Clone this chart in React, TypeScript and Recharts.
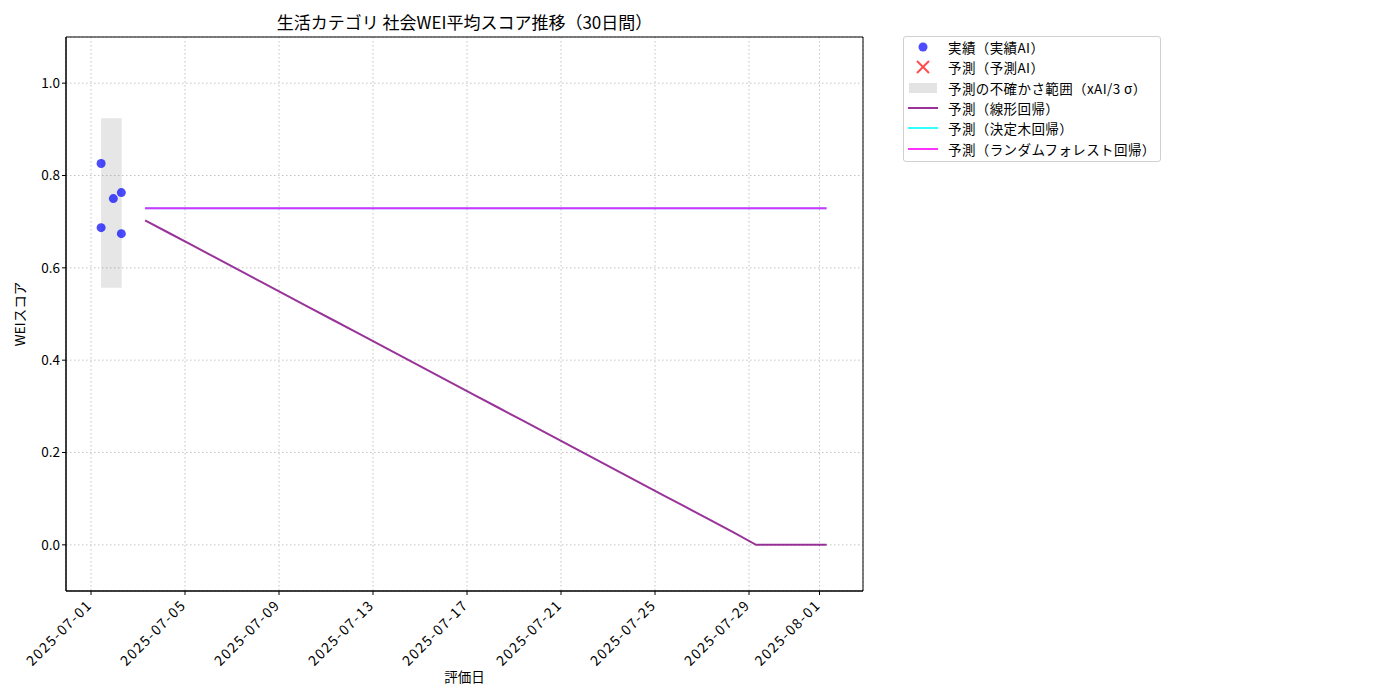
import React from 'react'
import {
  ComposedChart,
  Line,
  Scatter,
  XAxis,
  YAxis,
  CartesianGrid,
  ReferenceArea
} from 'recharts'

const FONT = '"Noto Sans CJK JP", "DejaVu Sans", sans-serif'
const BASE = Date.UTC(2025, 6, 1)

// 実績データ
const actualDates = [
  '2025-07-01T10:20Z',
  '2025-07-01T22:50Z',
  '2025-07-02T07:00Z',
  '2025-07-01T10:20Z',
  '2025-07-02T07:00Z'
]
const actualScores = [0.826, 0.75, 0.763, 0.687, 0.674]

// 不確かさ範囲 (xAI/3σ)
const bandDates = ['2025-07-01T10:20Z', '2025-07-02T07:20Z']
const bandRange = [0.557, 0.924]

// 予測日 (30日間)
const forecastDates = [
  '2025-07-03', '2025-07-04', '2025-07-05', '2025-07-06', '2025-07-07',
  '2025-07-08', '2025-07-09', '2025-07-10', '2025-07-11', '2025-07-12',
  '2025-07-13', '2025-07-14', '2025-07-15', '2025-07-16', '2025-07-17',
  '2025-07-18', '2025-07-19', '2025-07-20', '2025-07-21', '2025-07-22',
  '2025-07-23', '2025-07-24', '2025-07-25', '2025-07-26', '2025-07-27',
  '2025-07-28', '2025-07-29', '2025-07-30', '2025-07-31', '2025-08-01'
].map(d => d + 'T07:12Z')

const linearScores = [
  0.703, 0.676, 0.649, 0.622, 0.595, 0.568, 0.541, 0.514, 0.487, 0.46,
  0.433, 0.406, 0.379, 0.352, 0.325, 0.298, 0.271, 0.244, 0.217, 0.19,
  0.163, 0.136, 0.109, 0.082, 0.055, 0.028, 0.0, 0.0, 0.0, 0.0
]
const treeScores = [
  0.729, 0.729, 0.729, 0.729, 0.729, 0.729, 0.729, 0.729, 0.729, 0.729,
  0.729, 0.729, 0.729, 0.729, 0.729, 0.729, 0.729, 0.729, 0.729, 0.729,
  0.729, 0.729, 0.729, 0.729, 0.729, 0.729, 0.729, 0.729, 0.729, 0.729
]
const forestScores = [
  0.729, 0.729, 0.729, 0.729, 0.729, 0.729, 0.729, 0.729, 0.729, 0.729,
  0.729, 0.729, 0.729, 0.729, 0.729, 0.729, 0.729, 0.729, 0.729, 0.729,
  0.729, 0.729, 0.729, 0.729, 0.729, 0.729, 0.729, 0.729, 0.729, 0.729
]

const tickDates = [
  '2025-07-01', '2025-07-05', '2025-07-09', '2025-07-13', '2025-07-17',
  '2025-07-21', '2025-07-25', '2025-07-29', '2025-08-01'
]
const yTicks = [0, 0.2, 0.4, 0.6, 0.8, 1.0]

const toDay = (s: string) =>
  (Date.parse(s.length === 10 ? s + 'T00:00Z' : s) - BASE) / 86400000

const X_DOMAIN: [number, number] = [-1.064, 32.85]
const Y_DOMAIN: [number, number] = [-0.1, 1.1]

const actualData = actualDates.map((d, i) => ({ day: toDay(d), value: actualScores[i] }))
const linearData = forecastDates.map((d, i) => ({ day: toDay(d), value: linearScores[i] }))
const treeData = forecastDates.map((d, i) => ({ day: toDay(d), value: treeScores[i] }))
const forestData = forecastDates.map((d, i) => ({ day: toDay(d), value: forestScores[i] }))
const xTicks = tickDates.map(toDay)
const tickLabel: Record<string, string> = {}
tickDates.forEach(d => (tickLabel[String(toDay(d))] = d))

const DateTick = ({ x, y, payload }: any) => (
  <g transform={`translate(${x},${y})`}>
    <text
      x={2}
      y={9}
      transform="rotate(-45, 2, 9)"
      textAnchor="end"
      fontSize={14}
      letterSpacing={1.4}
      fontFamily={FONT}
      fill="#000"
    >
      {tickLabel[String(payload.value)]}
    </text>
  </g>
)

const legendItems = [
  { label: '実績（実績AI）', kind: 'dot' },
  { label: '予測（予測AI）', kind: 'cross' },
  { label: '予測の不確かさ範囲（xAI/3 σ）', kind: 'band' },
  { label: '予測（線形回帰）', kind: 'line', color: '#993399' },
  { label: '予測（決定木回帰）', kind: 'line', color: '#33ffff' },
  { label: '予測（ランダムフォレスト回帰）', kind: 'line', color: '#ff33ff' }
]

const LegendBox = () => (
  <div
    style={{
      position: 'absolute',
      left: 903,
      top: 36,
      width: 258,
      height: 126,
      boxSizing: 'border-box',
      border: '1px solid #d0d0d0',
      borderRadius: 3,
      background: '#fff',
      padding: '0 0 0 3px',
      fontFamily: FONT,
      fontSize: 13.5
    }}
  >
    {legendItems.map(item => (
      <div key={item.label} style={{ display: 'flex', alignItems: 'center', height: 20.3, whiteSpace: 'nowrap' }}>
        <svg width={34} height={14} style={{ marginRight: 7 }}>
          {item.kind === 'dot' && <circle cx={16} cy={7} r={4.5} fill="#4d4dff" />}
          {item.kind === 'cross' && (
            <g stroke="#ff4d4d" strokeWidth={2}>
              <line x1={10} y1={1} x2={22} y2={13} />
              <line x1={22} y1={1} x2={10} y2={13} />
            </g>
          )}
          {item.kind === 'band' && <rect x={2} y={2} width={28} height={10} fill="#e3e3e3" />}
          {item.kind === 'line' && (
            <line x1={1} y1={7} x2={31} y2={7} stroke={item.color} strokeWidth={2} />
          )}
        </svg>
        <span style={{ letterSpacing: 0.4 }}>{item.label}</span>
      </div>
    ))}
  </div>
)

export default function App() {
  return (
    <div style={{ position: 'absolute', left: 0, top: 0, width: 1400, height: 700, background: '#fff' }}>
      <div
        style={{
          position: 'absolute',
          left: 66,
          width: 797,
          top: 9,
          textAlign: 'center',
          fontFamily: FONT,
          fontSize: 17
        }}
      >
        生活カテゴリ 社会WEI平均スコア推移（30日間）
      </div>
      <div
        style={{
          position: 'absolute',
          left: 66,
          width: 797,
          top: 666,
          textAlign: 'center',
          fontFamily: FONT,
          fontSize: 13.5
        }}
      >
        評価日
      </div>
      <div
        style={{
          position: 'absolute',
          left: 19,
          top: 314,
          transform: 'translate(-50%, -50%) rotate(-90deg)',
          fontFamily: FONT,
          fontSize: 13.5,
          whiteSpace: 'nowrap'
        }}
      >
        WEIスコア
      </div>
      <ComposedChart
        width={1400}
        height={700}
        margin={{ top: 37, right: 537, bottom: 49, left: 6 }}
      >
        <CartesianGrid stroke="#c4c4c4" strokeDasharray="1.5 2.5" />
        <XAxis
          type="number"
          dataKey="day"
          domain={X_DOMAIN}
          ticks={xTicks}
          allowDataOverflow
          height={60}
          tick={<DateTick />}
          tickLine={{ stroke: '#000' }}
          tickSize={4}
          axisLine={{ stroke: '#000' }}
        />
        <YAxis
          type="number"
          dataKey="value"
          domain={Y_DOMAIN}
          ticks={yTicks}
          allowDataOverflow
          width={60}
          tickFormatter={(v: number) => v.toFixed(1)}
          tick={{ fontSize: 13.5, fontFamily: FONT, fill: '#000' }}
          tickLine={{ stroke: '#000' }}
          tickSize={4}
          axisLine={{ stroke: '#000' }}
        />
        <ReferenceArea
          x1={toDay(bandDates[0])}
          x2={toDay(bandDates[1])}
          y1={bandRange[0]}
          y2={bandRange[1]}
          fill="#808080"
          fillOpacity={0.2}
          stroke="none"
        />
        <Scatter
          data={actualData}
          dataKey="value"
          fill="#0000ff"
          fillOpacity={0.7}
          shape={(p: any) => <circle cx={p.cx} cy={p.cy} r={4.5} fill="#0000ff" fillOpacity={0.7} />}
          isAnimationActive={false}
        />
        <Line
          data={linearData}
          dataKey="value"
          stroke="#800080"
          strokeOpacity={0.8}
          strokeWidth={2}
          dot={false}
          isAnimationActive={false}
        />
        <Line
          data={treeData}
          dataKey="value"
          stroke="#00ffff"
          strokeOpacity={0.8}
          strokeWidth={2}
          dot={false}
          isAnimationActive={false}
        />
        <Line
          data={forestData}
          dataKey="value"
          stroke="#ff00ff"
          strokeOpacity={0.8}
          strokeWidth={2}
          dot={false}
          isAnimationActive={false}
        />
        <ReferenceArea
          x1={X_DOMAIN[0]}
          x2={X_DOMAIN[1]}
          y1={Y_DOMAIN[0]}
          y2={Y_DOMAIN[1]}
          fill="none"
          stroke="#000"
          strokeWidth={1}
        />
      </ComposedChart>
      <LegendBox />
    </div>
  )
}
